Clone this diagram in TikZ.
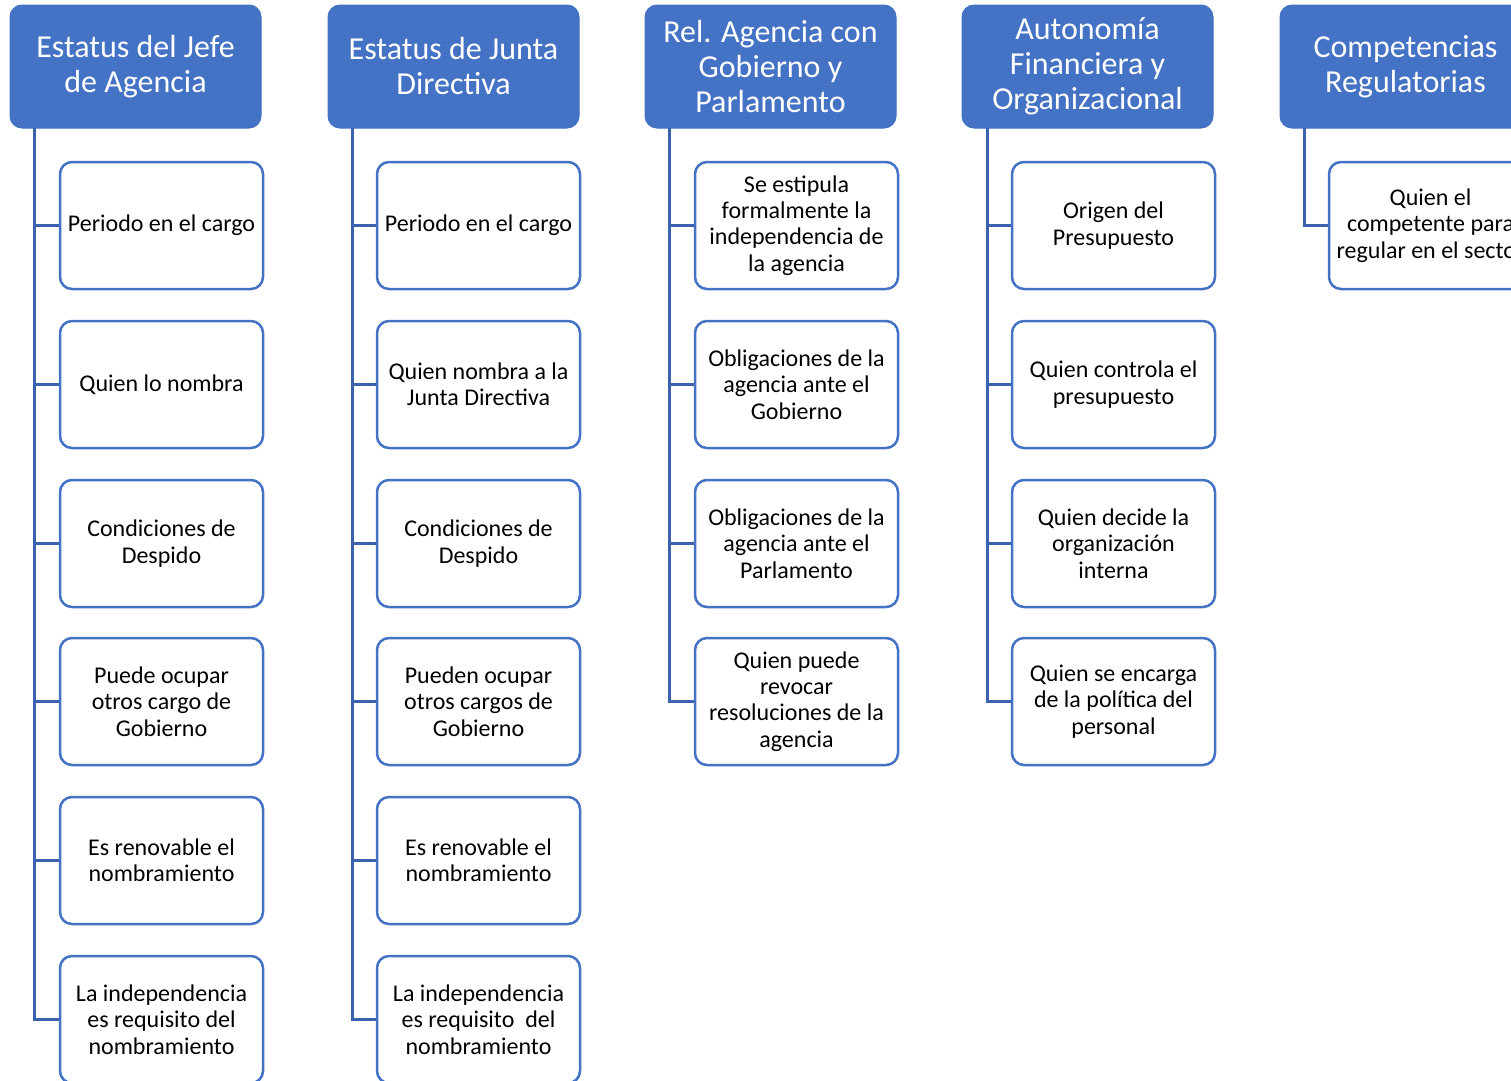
\documentclass[tikz,border=0pt]{standalone}
\usepackage{fontspec}
\setmainfont{Carlito}
\definecolor{hblue}{HTML}{4472C4}
\definecolor{cblue}{HTML}{3A62AE}
\tikzset{
  headbox/.style={fill=hblue, draw=hblue, line width=1pt, rounded corners=12pt, minimum width=251pt, minimum height=123pt, text=white, font=\fontsize{32}{35}\selectfont, align=center, inner sep=0pt},
  childbox/.style={draw=hblue, line width=2.5pt, fill=white, rounded corners=12pt, minimum width=203pt, minimum height=127pt, text=black, font=\fontsize{24}{26.4}\selectfont, align=center, inner sep=0pt},
  conn/.style={draw=cblue, line width=3pt}
}
\begin{document}
\begin{tikzpicture}[x=1pt,y=-1pt]
\clip (0,0) rectangle (1511,1080);
\fill[white] (0,0) rectangle (1511,1080);
% headers
\node[headbox] (h1) at (135.5,66.5) {Estatus del Jefe\\de Agencia};
\node[headbox] (h2) at (453.5,66.5) {Estatus de Junta\\Directiva};
\node[headbox] (h3) at (770.5,66.5) {Rel. Agencia con\\Gobierno y\\Parlamento};
\node[headbox] (h4) at (1087.5,66.5) {Autonomía\\Financiera y\\Organizacional};
\node[headbox] (h5) at (1405.5,66.5) {Competencias\\Regulatorias};
% spine coordinates
\coordinate (s1) at (34.5,128);
\coordinate (s2) at (352,128);
\coordinate (s3) at (669.5,128);
\coordinate (s4) at (987,128);
\coordinate (s5) at (1304.5,128);
% column 1
\node[childbox] (a1) at (161.5,225.5) {Periodo en el cargo};
\node[childbox] (a2) at (161.5,384.5) {Quien lo nombra};
\node[childbox] (a3) at (161.5,543.5) {Condiciones de\\Despido};
\node[childbox] (a4) at (161.5,701.5) {Puede ocupar\\otros cargo de\\Gobierno};
\node[childbox] (a5) at (161.5,860.5) {Es renovable el\\nombramiento};
\node[childbox] (a6) at (161.5,1019.5) {La independencia\\es requisito del\\nombramiento};
% column 2
\node[childbox] (b1) at (478.5,225.5) {Periodo en el cargo};
\node[childbox] (b2) at (478.5,384.5) {Quien nombra a la\\Junta Directiva};
\node[childbox] (b3) at (478.5,543.5) {Condiciones de\\Despido};
\node[childbox] (b4) at (478.5,701.5) {Pueden ocupar\\otros cargos de\\Gobierno};
\node[childbox] (b5) at (478.5,860.5) {Es renovable el\\nombramiento};
\node[childbox] (b6) at (478.5,1019.5) {La independencia\\es requisito\ \ del\\nombramiento};
% column 3
\node[childbox] (c1) at (796.5,225.5) {Se estipula\\formalmente la\\independencia de\\la agencia};
\node[childbox] (c2) at (796.5,384.5) {Obligaciones de la\\agencia ante el\\Gobierno};
\node[childbox] (c3) at (796.5,543.5) {Obligaciones de la\\agencia ante el\\Parlamento};
\node[childbox] (c4) at (796.5,701.5) {Quien puede\\revocar\\resoluciones de la\\agencia};
% column 4
\node[childbox] (d1) at (1113.5,225.5) {Origen del\\Presupuesto};
\node[childbox] (d2) at (1113.5,384.5) {Quien controla el\\presupuesto};
\node[childbox] (d3) at (1113.5,543.5) {Quien decide la\\organización\\interna};
\node[childbox] (d4) at (1113.5,701.5) {Quien se encarga\\de la política del\\personal};
% column 5
\node[childbox] (e1) at (1430.5,225.5) {Quien el\\competente para\\regular en el sector};
% connectors
\foreach \n in {a1,a2,a3,a4,a5,a6} \draw[conn] (s1) |- (\n.west);
\foreach \n in {b1,b2,b3,b4,b5,b6} \draw[conn] (s2) |- (\n.west);
\foreach \n in {c1,c2,c3,c4} \draw[conn] (s3) |- (\n.west);
\foreach \n in {d1,d2,d3,d4} \draw[conn] (s4) |- (\n.west);
\draw[conn] (s5) |- (e1.west);
\end{tikzpicture}
\end{document}
